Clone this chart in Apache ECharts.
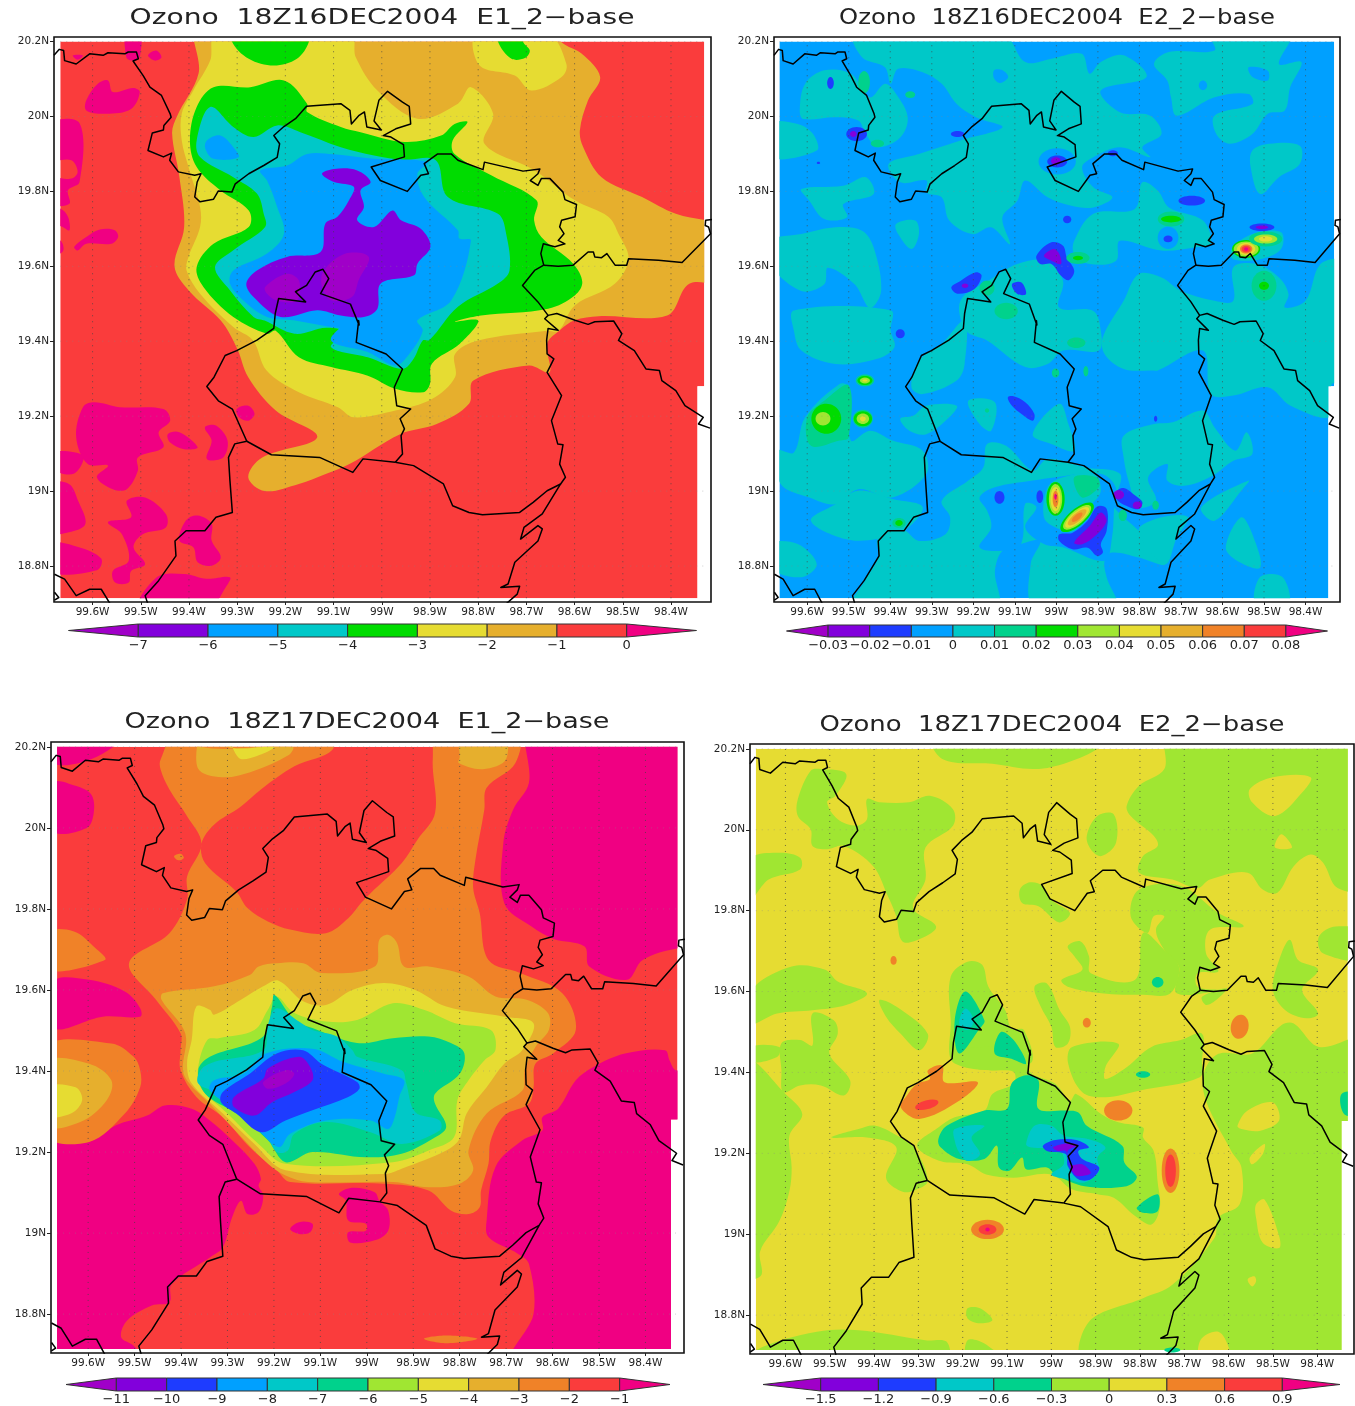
<!DOCTYPE html>
<html><head><meta charset="utf-8">
<style>html,body{margin:0;padding:0;background:#fff}#c{width:1355px;height:1406px}</style>
<script src="https://cdn.jsdelivr.net/npm/echarts@6/dist/echarts.min.js"></script>
</head><body><div id="c"></div>
<script>
// ---- axes ----
const lonTicks=[99.6,99.5,99.4,99.3,99.2,99.1,99,98.9,98.8,98.7,98.6,98.5,98.4];
const latTicks=[20.2,20,19.8,19.6,19.4,19.2,19,18.8];
// data extent of the model field, degrees W / N
const fieldExtent=[99.667,20.2, 98.331,20.2, 98.331,19.28, 98.345,19.28, 98.345,18.714, 99.667,18.714];
// ---- state borders: flat lists of lonW,lat ----
const borderMain=[99.68,20.163,99.669,20.179,99.66,20.176,99.658,20.149,99.634,20.14,99.606,20.167,99.578,20.163,99.568,20.17,99.533,20.167,99.526,20.172,99.509,20.172,99.505,20.154,99.516,20.148,99.495,20.109,99.481,20.078,99.457,20.056,99.439,20.007,99.437,19.998,99.452,19.976,99.453,19.964,99.476,19.956,99.485,19.909,99.453,19.892,99.436,19.902,99.44,19.883,99.422,19.852,99.388,19.843,99.375,19.847,99.383,19.825,99.388,19.785,99.377,19.772,99.349,19.779,99.339,19.801,99.311,19.798,99.304,19.82,99.276,19.847,99.245,19.869,99.217,19.891,99.212,19.927,99.224,19.949,99.203,19.973,99.179,19.994,99.156,20.027,99.085,20.034,99.066,20.016,99.063,19.98,99.047,20.003,99.036,20.012,99.031,19.972,99.001,19.964,99.016,19.988,99.006,20.043,98.988,20.067,98.957,20.038,98.943,20.027,98.94,19.98,98.971,19.967,98.997,19.949,98.981,19.945,98.955,19.925,98.953,19.892,99.022,19.865,99.003,19.829,98.947,19.8,98.919,19.843,98.903,19.847,98.912,19.874,98.884,19.9,98.856,19.9,98.842,19.883,98.79,19.858,98.787,19.878,98.707,19.854,98.672,19.86,98.676,19.847,98.692,19.829,98.676,19.816,98.669,19.834,98.651,19.834,98.624,19.798,98.62,19.778,98.596,19.765,98.599,19.732,98.627,19.723,98.631,19.705,98.622,19.687,98.634,19.669,98.62,19.66,98.641,19.652,98.665,19.66,98.67,19.634,98.664,19.603];
const borderEastSpur=[98.664,19.603,98.634,19.6,98.603,19.603,98.572,19.638,98.561,19.638,98.558,19.625,98.544,19.623,98.533,19.634,98.516,19.603,98.492,19.603,98.488,19.62,98.426,19.616,98.377,19.61,98.318,19.687,98.322,19.705,98.329,19.709,98.328,19.723,98.315,19.725];
const borderEast=[98.664,19.603,98.683,19.589,98.708,19.549,98.676,19.505,98.655,19.469,98.637,19.474,98.599,19.456,98.572,19.445,98.558,19.452,98.519,19.454,98.502,19.42,98.509,19.402,98.476,19.375,98.452,19.326,98.424,19.322,98.419,19.295,98.39,19.268,98.371,19.228,98.333,19.197,98.343,19.179,98.319,19.168];
const borderCentre=[98.655,19.469,98.662,19.46,98.634,19.429,98.655,19.434,98.658,19.403,98.657,19.366,98.643,19.353,98.657,19.317,98.627,19.255,98.648,19.188,98.635,19.126,98.624,19.124,98.631,19.072,98.619,19.037,98.629,19.019,98.657,19.001,98.686,18.97,98.714,18.943,98.791,18.937,98.819,18.943,98.853,18.961,98.872,19.019,98.934,19.068,98.972,19.077];
const borderSouthEast=[98.629,19.019,98.667,18.939,98.705,18.903,98.712,18.872,98.676,18.908,98.667,18.899,98.676,18.867,98.724,18.81,98.738,18.752,98.753,18.743,98.714,18.746,98.719,18.725,98.743,18.698];
const borderSouthCap=[98.972,19.077,99.039,19.086,99.06,19.05,99.129,19.09,99.229,19.097,99.28,19.133];
const borderCapital=[98.972,19.077,98.957,19.099,98.96,19.148,98.953,19.166,98.962,19.193,98.94,19.219,98.969,19.228,98.974,19.277,98.957,19.326,98.991,19.366,99.053,19.397,99.048,19.455,99.047,19.443,99.065,19.499,99.127,19.527,99.11,19.567,99.122,19.592,99.138,19.585,99.156,19.549,99.179,19.532,99.158,19.505,99.214,19.514,99.221,19.474,99.224,19.434,99.259,19.403,99.301,19.375,99.325,19.362,99.348,19.304,99.363,19.279,99.339,19.241,99.31,19.219,99.28,19.133];
const borderWest=[99.28,19.133,99.305,19.126,99.318,19.09,99.315,19.028,99.31,18.943,99.344,18.93,99.367,18.894,99.406,18.894,99.429,18.867,99.427,18.827,99.463,18.761,99.491,18.721,99.485,18.698];
const borderCorner=[99.679,18.778,99.658,18.765,99.634,18.721,99.606,18.738,99.582,18.738,99.563,18.698];
const borderCorner2=[99.679,18.73,99.67,18.716,99.679,18.709];
const borders=[borderMain,borderEastSpur,borderEast,borderCentre,borderSouthEast,borderSouthCap,borderCapital,borderWest,borderCorner,borderCorner2];

// ---- colour scale of every panel: contour levels (colours in code below) ----
const levelsE1Dec16=[-7,-6,-5,-4,-3,-2,-1,0];
const levelsE2Dec16=[-0.03,-0.02,-0.01,0,0.01,0.02,0.03,0.04,0.05,0.06,0.07,0.08];
const levelsE1Dec17=[-11,-10,-9,-8,-7,-6,-5,-4,-3,-2,-1];
const levelsE2Dec17=[-1.5,-1.2,-0.9,-0.6,-0.3,0,0.3,0.6,0.9];

// ---- contour regions: [lower bound of band, flat lonW,lat outline] ----
const regionsE1Dec16=[
[-2,[99.38,20.25,99.38,20.115,99.425,20.0,99.435,19.955,99.42,19.84,99.41,19.705,99.43,19.6,99.40,19.535,99.334,19.455,99.30,19.38,99.277,19.304,99.22,19.215,99.134,19.144,99.248,19.09,99.277,19.037,99.243,19.0,99.172,19.019,99.115,19.046,99.067,19.072,98.962,19.152,98.886,19.179,98.819,19.233,98.81,19.295,98.695,19.335,98.652,19.317,98.657,19.393,98.63,19.43,98.60,19.456,98.55,19.467,98.408,19.469,98.37,19.545,98.35,19.558,98.29,19.558,98.29,19.718,98.327,19.723,98.39,19.74,98.46,19.785,98.544,19.838,98.582,19.918,98.589,19.963,98.572,20.043,98.547,20.105,98.585,20.167,98.627,20.198,98.655,20.25]],
[-3,[99.344,20.22,99.356,20.149,99.391,20.069,99.415,20.007,99.415,19.936,99.401,19.865,99.377,19.758,99.377,19.705,99.401,19.625,99.405,19.589,99.377,19.527,99.308,19.438,99.267,19.402,99.239,19.322,99.172,19.264,99.091,19.224,99.058,19.197,98.972,19.215,98.896,19.246,98.848,19.304,98.848,19.366,98.80,19.402,98.657,19.428,98.633,19.428,98.599,19.496,98.516,19.554,98.488,19.62,98.509,19.687,98.53,19.732,98.599,19.776,98.683,19.856,98.787,19.927,98.769,20.007,98.815,20.078,98.842,20.034,98.926,19.994,99.009,20.069,99.054,20.158,99.065,20.22]],
[-3,[98.804,20.22,98.797,20.136,98.724,20.109,98.69,20.069,98.627,20.105,98.617,20.14,98.655,20.22]],
[-4,[99.349,20.078,99.384,20.025,99.398,19.936,99.384,19.865,99.335,19.803,99.276,19.749,99.276,19.705,99.349,19.66,99.384,19.598,99.37,19.545,99.308,19.465,99.238,19.42,99.22,19.428,99.172,19.357,99.105,19.331,99.029,19.308,98.972,19.273,98.914,19.264,98.9,19.286,98.896,19.34,98.838,19.393,98.80,19.455,98.849,19.452,98.794,19.469,98.655,19.487,98.599,19.523,98.584,19.558,98.603,19.607,98.669,19.678,98.684,19.723,98.679,19.776,98.773,19.843,98.849,19.9,98.853,19.936,98.822,19.985,98.849,19.98,98.877,19.949,98.953,19.932,99.044,19.958,99.085,19.972,99.155,20.012,99.155,20.034,99.203,20.096,99.273,20.078]],
[-4,[99.311,20.25,99.311,20.2,99.276,20.154,99.224,20.136,99.176,20.154,99.151,20.2,99.151,20.25]],
[-4,[98.759,20.25,98.759,20.2,98.731,20.154,98.703,20.156,98.693,20.176,98.707,20.2,98.707,20.25]],
[-5,[99.356,20.025,99.384,19.936,99.377,19.892,99.308,19.838,99.259,19.794,99.245,19.74,99.242,19.705,99.308,19.643,99.346,19.598,99.315,19.536,99.266,19.465,99.243,19.455,99.181,19.42,99.115,19.436,99.077,19.424,99.105,19.384,99.029,19.357,98.957,19.326,98.934,19.353,98.915,19.402,98.901,19.403,98.842,19.492,98.759,19.554,98.735,19.589,98.742,19.687,98.759,19.74,98.863,19.785,98.888,19.883,98.953,19.884,99.016,19.896,99.085,19.918,99.169,19.958,99.217,19.976,99.266,19.945,99.308,19.972]],
[-6,[99.363,19.936,99.335,19.949,99.308,19.918,99.297,19.891,99.349,19.887,99.366,19.914]],
[-6,[99.252,19.856,99.238,19.829,99.217,19.758,99.203,19.687,99.238,19.634,99.308,19.589,99.315,19.554,99.287,19.509,99.238,19.465,99.183,19.456,99.072,19.434,99.067,19.455,99.105,19.402,99.029,19.371,98.972,19.335,98.943,19.366,98.915,19.428,98.926,19.456,98.856,19.509,98.815,19.669,98.839,19.674,98.842,19.696,98.912,19.785,98.926,19.847,98.905,19.878,99.016,19.887,99.099,19.899,99.155,19.9,99.197,19.869]],
[-7,[99.124,19.847,99.099,19.86,99.051,19.856,99.023,19.825,99.044,19.803,99.037,19.758,99.051,19.723,99.016,19.705,98.978,19.749,98.96,19.723,98.919,19.7,98.899,19.652,98.926,19.607,98.933,19.576,99.002,19.554,99.009,19.487,99.037,19.465,99.085,19.469,99.134,19.483,99.21,19.465,99.266,19.518,99.281,19.554,99.259,19.589,99.197,19.625,99.127,19.638,99.117,19.714,99.092,19.732,99.068,19.776,99.058,19.812,99.099,19.825]],
[-8,[99.242,19.545,99.197,19.58,99.172,19.562,99.176,19.509,99.217,19.509,99.238,19.527]],
[-8,[99.12,19.589,99.075,19.634,99.027,19.625,99.048,19.563,99.062,19.518,99.103,19.509,99.124,19.545]],
[0,[99.613,20.043,99.589,20.087,99.568,20.096,99.558,20.065,99.516,20.076,99.502,20.065,99.52,20.02,99.572,20.007,99.613,20.016]],
[0,[99.69,19.98,99.627,19.982,99.627,19.825,99.651,19.803,99.648,19.767,99.69,19.767,99.69,19.834,99.644,19.834,99.631,19.852,99.644,19.883,99.69,19.887]],
[0,[99.69,19.754,99.667,19.754,99.651,19.732,99.648,19.696,99.662,19.705,99.69,19.72]],
[0,[99.69,19.669,99.667,19.669,99.66,19.647,99.667,19.634,99.69,19.634]],
[0,[99.638,19.652,99.613,19.678,99.585,19.698,99.554,19.696,99.547,19.678,99.561,19.66,99.613,19.66,99.631,19.642]],
[0,[99.641,20.163,99.62,20.163,99.631,20.151]],
[0,[99.53,20.25,99.502,20.25,99.502,20.158,99.516,20.149,99.53,20.158]],
[0,[99.485,20.163,99.468,20.176,99.457,20.158,99.471,20.149]],
[0,[99.62,19.224,99.596,19.237,99.544,19.224,99.453,19.219,99.439,19.188,99.463,19.157,99.453,19.117,99.506,19.09,99.506,19.054,99.529,19.005,99.558,19.005,99.591,19.037,99.568,19.068,99.61,19.072,99.634,19.144]],
[0,[99.69,19.103,99.62,19.095,99.639,19.046,99.69,19.063]],
[0,[99.444,19.152,99.42,19.157,99.382,19.117,99.41,19.112,99.439,19.13]],
[0,[99.367,19.17,99.344,19.175,99.32,19.135,99.329,19.09,99.363,19.086,99.353,19.135]],
[0,[99.301,19.219,99.277,19.228,99.264,19.206,99.277,19.188,99.296,19.197]],
[0,[99.69,19.019,99.649,19.019,99.63,18.974,99.615,18.912,99.649,18.89,99.69,18.89]],
[0,[99.529,18.974,99.491,18.983,99.448,18.939,99.448,18.903,99.496,18.885,99.515,18.85,99.491,18.805,99.52,18.787,99.525,18.756,99.553,18.756,99.558,18.787,99.525,18.814,99.539,18.885,99.568,18.917,99.52,18.93]],
[0,[99.406,18.922,99.382,18.935,99.353,18.913,99.353,18.868,99.334,18.823,99.353,18.801,99.382,18.81,99.391,18.85,99.42,18.868]],
[0,[99.69,18.86,99.63,18.851,99.582,18.82,99.591,18.789,99.69,18.785]],
[0,[99.506,18.68,99.467,18.77,99.41,18.779,99.363,18.766,99.315,18.77,99.324,18.743,99.363,18.68]]
];
const regionsE2Dec16=[
[0,[99.486,20.22,99.13,20.22,99.075,20.145,99.012,20.154,98.939,20.167,98.92,20.114,98.893,20.145,98.838,20.163,98.783,20.105,98.893,20.069,98.847,20.011,98.774,20.002,98.747,19.953,98.793,19.918,98.774,19.891,98.847,19.918,98.911,19.891,98.938,19.864,98.911,19.811,98.865,19.784,98.911,19.757,98.966,19.762,99.021,19.784,99.075,19.829,99.094,19.775,99.13,19.731,99.112,19.659,99.157,19.704,99.203,19.686,99.258,19.722,99.276,19.784,99.313,19.797,99.313,19.829,99.376,19.824,99.404,19.873,99.331,19.9,99.231,19.936,99.13,19.971,99.194,19.998,99.24,20.033,99.276,20.087,99.322,20.118,99.381,20.127,99.399,20.087,99.413,20.131,99.468,20.158]],
[-0.01,[99.15,20.123,99.13,20.123,99.116,20.105,99.135,20.089,99.15,20.101]],
[0,[99.618,20.016,99.605,20.087,99.559,20.123,99.495,20.114,99.449,20.051,99.413,20.087,99.386,20.06,99.358,19.998,99.376,19.944,99.431,19.918,99.459,19.953,99.477,19.989,99.532,19.998,99.609,19.993]],
[0,[99.69,19.98,99.623,19.98,99.586,19.953,99.577,19.909,99.69,19.891]],
[0,[99.614,19.806,99.513,19.815,99.459,19.838,99.44,19.793,99.513,19.766,99.504,19.731,99.559,19.726,99.595,19.775]],
[0,[99.69,19.668,99.614,19.686,99.532,19.704,99.468,19.695,99.44,19.65,99.422,19.534,99.449,19.489,99.486,19.552,99.55,19.596,99.559,19.552,99.614,19.534,99.69,19.606]],
[0,[99.386,19.713,99.34,19.722,99.331,19.686,99.349,19.646,99.381,19.686]],
[0,[98.765,20.14,98.729,20.172,98.619,20.176,98.628,20.22,98.437,20.22,98.464,20.14,98.41,20.145,98.437,20.078,98.45,20.016,98.491,20.007,98.528,19.953,98.583,19.927,98.615,19.953,98.619,20.002,98.528,20.033,98.537,20.06,98.619,20.051,98.71,20.002,98.724,20.051,98.733,20.096]],
[-0.01,[98.537,20.131,98.491,20.122,98.491,20.096,98.528,20.105]],
[0,[98.528,19.909,98.487,19.927,98.414,19.922,98.414,19.873,98.464,19.838,98.509,19.793,98.532,19.864]],
[0,[98.957,19.668,98.911,19.74,98.811,19.753,98.793,19.824,98.756,19.802,98.729,19.757,98.647,19.722,98.628,19.66,98.665,19.651,98.747,19.642,98.847,19.668,98.856,19.615,98.92,19.606,98.957,19.633]],
[0,[98.578,19.646,98.528,19.686,98.459,19.691,98.459,19.646,98.509,19.619,98.574,19.619]],
[0,[98.838,19.508,98.802,19.579,98.747,19.57,98.701,19.535,98.619,19.508,98.574,19.508,98.574,19.597,98.519,19.606,98.464,19.57,98.441,19.526,98.45,19.49,98.4,19.508,98.364,19.606,98.31,19.61,98.31,19.286,98.337,19.286,98.341,19.198,98.436,19.228,98.491,19.277,98.574,19.255,98.628,19.259,98.647,19.375,98.756,19.322,98.765,19.322,98.838,19.326,98.884,19.366,98.888,19.411]],
[0,[98.838,19.148,98.765,19.179,98.72,19.184,98.647,19.215,98.619,19.17,98.569,19.108,98.542,19.157,98.528,19.099,98.574,19.081,98.624,19.041,98.692,19.014,98.733,19.028,98.733,19.072,98.779,19.037,98.76,18.974,98.802,18.957,98.824,19.019,98.838,19.09]],
[0,[99.49,18.69,99.459,18.765,99.429,18.823,99.431,18.872,99.404,18.896,99.367,18.896,99.331,18.867,99.267,18.885,99.256,18.93,99.276,18.974,99.212,19.028,99.176,19.063,99.167,19.126,99.121,19.121,99.057,19.055,99.021,19.086,98.93,19.063,98.847,19.046,98.857,18.983,98.861,18.957,98.802,18.894,98.738,18.805,98.802,18.823,98.866,18.836,98.884,18.814,98.879,18.77,98.857,18.69,99.053,18.69,99.062,18.805,99.039,18.867,99.085,18.859,99.13,18.841,99.148,18.787,99.144,18.69]],
[-0.01,[99.185,18.983,99.148,19.01,99.057,19.028,99.002,19.037,98.893,19.046,98.857,19.01,98.861,18.957,98.866,18.876,98.884,18.814,98.984,18.85,99.03,18.859,99.075,18.903,99.048,18.957,99.075,18.966,99.085,18.859,99.13,18.841,99.185,18.85,99.157,18.903,99.167,18.948]],
[0,[99.021,19.01,98.984,19.037,98.911,19.046,98.893,19.0,98.92,18.957,98.957,18.894,99.002,18.903,99.03,18.93]],
[0.01,[98.957,19.037,98.902,19.037,98.898,19.01,98.938,18.983]],
[0,[99.673,19.108,99.632,19.103,99.605,19.197,99.522,19.286,99.5,19.277,99.495,19.135,99.449,19.161,99.395,19.135,99.322,19.108,99.313,19.046,99.395,18.983,99.477,19.005,99.532,18.965,99.595,18.983,99.664,19.019]],
[0,[99.591,18.921,99.532,18.965,99.477,19.001,99.395,18.979,99.322,18.957,99.367,18.894,99.431,18.872,99.509,18.872]],
[0,[99.69,18.859,99.623,18.859,99.577,18.805,99.614,18.77,99.69,18.796]],
[0,[99.632,19.482,99.632,19.428,99.614,19.375,99.532,19.339,99.431,19.353,99.39,19.384,99.399,19.428,99.399,19.482]],
[0,[99.349,19.277,99.331,19.348,99.276,19.393,99.221,19.455,99.221,19.339,99.24,19.295,99.322,19.259]],
[0,[99.231,19.508,99.157,19.566,99.094,19.606,99.021,19.615,98.984,19.561,98.993,19.49,98.911,19.481,98.893,19.428,98.898,19.375,98.984,19.375,99.021,19.339,99.075,19.331,99.167,19.402,99.217,19.428]],
[0,[99.057,19.152,98.993,19.233,98.971,19.179,98.957,19.108,99.012,19.126]],
[0,[99.212,19.241,99.148,19.237,99.157,19.161,99.185,19.179]],
[0,[99.376,19.193,99.345,19.201,99.313,19.228,99.24,19.228,99.258,19.197,99.313,19.152,99.354,19.161]],
[0,[98.592,18.85,98.555,18.93,98.528,18.885,98.509,18.796,98.565,18.814]],
[0,[98.651,18.957,98.537,19.028,98.555,19.001,98.619,18.921]],
[0,[98.519,18.69,98.51,18.77,98.455,18.77,98.441,18.69]],
[0,[98.802,18.894,98.747,18.93,98.683,18.93,98.71,18.876,98.738,18.805]],
[0.01,[99.591,19.121,99.6,19.197,99.559,19.241,99.5,19.282,99.5,19.144,99.522,19.135]],
[-0.02,[99.048,19.628,99.012,19.664,98.984,19.655,98.975,19.624,98.957,19.588,98.97,19.563,98.989,19.575,99.012,19.606,99.039,19.606]],
[-0.03,[99.03,19.628,99.007,19.646,98.993,19.633,98.989,19.606,99.012,19.615]],
[-0.02,[99.253,19.544,99.231,19.561,99.194,19.584,99.18,19.575,99.198,19.539,99.239,19.527]],
[-0.02,[99.107,19.552,99.084,19.557,99.073,19.526,99.094,19.526]],
[-0.02,[99.117,19.25,99.103,19.253,99.075,19.237,99.053,19.206,99.057,19.188,99.084,19.206,99.107,19.228]],
[-0.02,[98.857,18.997,98.838,19.008,98.815,18.992,98.793,18.97,98.802,18.952,98.824,18.957,98.852,18.974]],
[-0.02,[98.993,18.885,98.961,18.889,98.925,18.921,98.902,18.959,98.879,18.953,98.879,18.894,98.893,18.858,98.888,18.836,98.902,18.827,98.925,18.849,98.961,18.845,98.993,18.867]],
[-0.03,[98.957,18.863,98.92,18.907,98.893,18.943,98.879,18.921,98.902,18.885,98.938,18.858]]
];
// round spots: [band, lonW, lat, radius W, radius N, tilt degrees]
const spotsE2Dec16=[
[-0.01,98.998,19.88,.045,.035],[-0.02,98.998,19.88,.024,.016],[-0.03,99.001,19.881,.012,.01],
[-0.02,99.481,19.953,.025,.019],[-0.03,99.489,19.953,.008,.008],[-0.02,99.544,20.089,.008,.016],
[-0.02,98.864,19.902,.012,.008],[-0.02,98.674,19.775,.032,.013],[-0.02,98.505,19.704,.03,.01],[-0.03,98.505,19.704,.015,.005],
[-0.02,98.974,19.725,.01,.01],[-0.01,98.731,19.676,.025,.03],[-0.02,98.731,19.673,.011,.009],[-0.01,98.647,20.083,.01,.013],
[-0.03,99.22,19.548,.008,.006],[-0.02,99.238,19.953,.016,.008],[-0.02,99.573,19.876,.004,.003],[-0.02,98.761,19.193,.004,.008],
[-0.02,99.376,19.42,.011,.012],[-0.02,99.137,18.983,.012,.017],[-0.02,99.04,18.985,.008,.017],[-0.03,98.85,18.99,.013,.012],[-0.03,98.805,18.962,.011,.01],
[0.02,99.002,18.979,.022,.045],[0.03,99.002,18.979,.016,.04],[0.04,99.002,18.979,.012,.032],[0.06,99.002,18.979,.007,.022],[0.08,99.002,18.985,.003,.008],
[0.02,98.95,18.93,.05,.022,40],[0.03,98.95,18.93,.042,.018,40],[0.04,98.95,18.93,.036,.014,40],[0.05,98.95,18.93,.028,.011,40],[0.06,98.95,18.93,.016,.007,40],
[0.02,98.543,19.646,.034,.024],[0.03,98.543,19.646,.03,.02],[0.04,98.543,19.646,.022,.016],[0.06,98.543,19.646,.015,.012],[0.07,98.543,19.646,.011,.009],[0.08,98.543,19.646,.005,.005],
[0.01,98.496,19.673,.04,.02],[0.03,98.496,19.673,.028,.012],[0.04,98.496,19.673,.016,.007],
[0.01,98.724,19.726,.032,.02],[0.02,98.724,19.726,.024,.009],[0.01,98.5,19.548,.03,.04],[0.02,98.5,19.548,.012,.011],
[0.01,98.948,19.622,.028,.016],[0.02,98.948,19.622,.012,.006],[0.01,99.352,20.058,.012,.009],[0.01,99.463,20.091,.014,.03],
[0.01,99.431,19.928,.016,.01],[0.01,99.121,19.481,.028,.022],[0.01,99.167,19.542,.018,.02],
[0.02,99.554,19.193,.036,.04,30],[0.03,99.562,19.193,.018,.018],
[0.01,99.466,19.193,.024,.024],[0.02,99.466,19.193,.022,.02],[0.03,99.466,19.193,.015,.014],[0.04,99.466,19.193,.007,.007],
[0.01,99.461,19.295,.022,.016],[0.02,99.461,19.295,.018,.012],[0.03,99.461,19.295,.012,.008],[0.04,99.461,19.295,.006,.003],
[0.01,99.379,18.915,.016,.013],[0.02,99.379,18.915,.009,.008],[0.01,98.952,19.396,.022,.014],[0.01,99.002,19.315,.009,.012],
[0.01,98.929,19.32,.006,.014],[0.01,98.84,18.935,.01,.015],[0.01,98.761,18.962,.008,.012],[0.01,99.167,19.215,.005,.006]
];
const regionsE1Dec17=[
[-1,[98.646,20.25,98.651,20.111,98.685,20.045,98.706,19.963,98.704,19.814,98.646,19.757,98.598,19.726,98.531,19.707,98.521,19.658,98.44,19.625,98.406,19.674,98.329,19.703,98.27,19.703,98.27,20.25]],
[-1,[98.55,19.377,98.512,19.41,98.444,19.443,98.358,19.451,98.348,19.426,98.334,19.402,98.27,19.402,98.27,18.685,98.685,18.685,98.641,18.8,98.651,18.924,98.675,18.949,98.738,18.99,98.742,19.031,98.723,19.163,98.665,19.229,98.622,19.253,98.622,19.286,98.588,19.307]],
[-1,[99.685,19.22,99.598,19.225,99.54,19.266,99.473,19.29,99.435,19.315,99.377,19.307,99.338,19.278,99.29,19.229,99.242,19.171,99.228,19.134,99.233,19.117,99.223,19.093,99.233,19.052,99.257,19.047,99.271,19.08,99.29,19.039,99.31,18.965,99.338,18.94,99.42,18.874,99.425,18.829,99.463,18.821,99.516,18.784,99.529,18.743,99.502,18.722,99.483,18.685,99.685,18.685]],
[-1,[99.06,19.097,99.031,19.112,98.983,19.101,98.973,19.08,98.954,19.056,98.954,19.006,98.983,18.982,99.036,18.977,99.04,19.002,99.002,19.006,99.002,19.023,99.04,19.031,99.045,19.08]],
[-1,[99.165,19.01,99.146,19.027,99.117,19.023,99.122,19.002,99.146,18.998]],
[-1,[99.675,20.111,99.627,20.104,99.593,20.082,99.588,20.037,99.603,20.0,99.675,19.992]],
[-1,[99.675,20.25,99.507,20.25,99.579,20.177,99.675,20.16]],
[-1,[99.675,19.621,99.598,19.625,99.521,19.596,99.488,19.555,99.488,19.534,99.569,19.534,99.675,19.506]],
[-3,[99.356,19.961,99.387,20.029,99.425,20.095,99.444,20.144,99.444,20.169,99.401,20.25,99.079,20.25,99.074,20.193,99.156,20.152,99.228,20.095,99.271,20.053,99.329,20.008,99.356,19.961,99.348,19.913,99.281,19.843,99.257,19.802,99.213,19.769,99.165,19.749,99.088,19.74,99.04,19.777,99.012,19.815,98.992,19.839,98.925,19.913,98.891,19.971,98.853,20.037,98.858,20.169,98.843,20.25,98.675,20.25,98.68,20.16,98.742,20.099,98.747,20.045,98.766,19.922,98.771,19.852,98.757,19.79,98.738,19.674,98.67,19.642,98.579,19.592,98.55,19.501,98.598,19.444,98.637,19.418,98.641,19.36,98.651,19.319,98.704,19.29,98.733,19.229,98.738,19.171,98.754,19.105,98.757,19.064,98.781,19.047,98.819,19.056,98.867,19.105,98.963,19.122,99.165,19.126,99.194,19.155,99.252,19.212,99.31,19.286,99.367,19.336,99.401,19.402,99.401,19.451,99.401,19.493,99.454,19.576,99.512,19.666,99.425,19.74,99.387,19.823,99.387,19.88]],
[-3,[99.69,19.74,99.632,19.745,99.584,19.703,99.564,19.674,99.69,19.65]],
[-3,[99.69,19.459,99.55,19.468,99.502,19.435,99.488,19.402,99.488,19.36,99.521,19.295,99.598,19.225,99.69,19.241]],
[-3,[98.877,18.739,98.829,18.747,98.762,18.739,98.829,18.728]],
[-3,[99.415,19.93,99.401,19.936,99.394,19.926,99.406,19.92]],
[-4,[99.69,19.422,99.598,19.418,99.55,19.377,99.56,19.328,99.617,19.274,99.69,19.266]],
[-5,[99.69,19.36,99.627,19.36,99.613,19.328,99.637,19.295,99.69,19.29]],
[-4,[99.358,20.25,99.358,20.2,99.16,20.2,99.168,20.18,99.245,20.14,99.312,20.125,99.364,20.148]],
[-5,[99.305,20.25,99.3,20.2,99.2,20.2,99.238,20.177,99.276,20.173]],
[-4,[98.8,20.25,98.8,20.175,98.802,20.16,98.75,20.145,98.7,20.17,98.71,20.25]],
[-4,[99.439,19.592,99.329,19.609,99.252,19.637,99.233,19.658,99.194,19.666,99.137,19.666,99.098,19.642,98.983,19.658,98.973,19.724,98.954,19.736,98.935,19.716,98.92,19.658,98.867,19.658,98.781,19.633,98.723,19.584,98.656,19.576,98.61,19.543,98.608,19.501,98.637,19.459,98.66,19.402,98.665,19.352,98.742,19.295,98.781,19.204,98.771,19.155,98.8,19.122,98.867,19.113,98.944,19.126,99.127,19.126,99.175,19.142,99.213,19.171,99.27,19.237,99.338,19.319,99.382,19.369,99.396,19.402,99.391,19.493,99.442,19.576]],
[-5,[99.377,19.477,99.367,19.559,99.338,19.551,99.329,19.539,99.271,19.576,99.223,19.609,99.19,19.623,99.137,19.572,99.088,19.563,99.031,19.6,98.963,19.617,98.896,19.6,98.829,19.559,98.704,19.534,98.641,19.518,98.665,19.452,98.704,19.418,98.742,19.36,98.785,19.295,98.8,19.233,98.829,19.204,98.925,19.159,98.963,19.146,99.175,19.155,99.242,19.22,99.31,19.295,99.377,19.369,99.387,19.418]],
[-6,[99.319,19.481,99.242,19.501,99.213,19.551,99.194,19.584,99.156,19.543,99.088,19.522,99.021,19.526,98.944,19.567,98.877,19.551,98.81,19.518,98.733,19.501,98.723,19.452,98.747,19.426,98.781,19.377,98.805,19.328,98.812,19.237,98.867,19.204,98.944,19.175,99.175,19.171,99.233,19.22,99.3,19.295,99.358,19.36,99.363,19.41,99.343,19.477]],
[-7,[99.199,19.588,99.156,19.526,99.117,19.506,99.021,19.469,98.944,19.481,98.867,19.485,98.819,19.469,98.79,19.444,98.8,19.393,98.853,19.344,98.853,19.319,98.829,19.262,98.858,19.233,98.925,19.196,99.002,19.187,99.117,19.2,99.175,19.175,99.213,19.229,99.281,19.295,99.348,19.344,99.363,19.402,99.338,19.435,99.223,19.485,99.204,19.559]],
[-8,[99.213,19.514,99.194,19.555,99.146,19.522,99.117,19.501,99.064,19.485,99.031,19.451,99.021,19.435,98.925,19.402,98.915,19.369,98.896,19.299,98.843,19.278,98.843,19.253,98.925,19.22,98.992,19.249,99.088,19.274,99.156,19.245,99.17,19.204,99.194,19.2,99.223,19.253,99.286,19.311,99.319,19.344,99.363,19.369,99.358,19.402,99.329,19.422,99.223,19.451]],
[-9,[99.218,19.443,99.117,19.455,99.05,19.422,98.963,19.393,98.92,19.377,98.93,19.336,98.94,19.286,98.954,19.257,98.992,19.278,99.088,19.278,99.165,19.245,99.189,19.212,99.233,19.253,99.281,19.303,99.338,19.352,99.329,19.377,99.266,19.393]],
[-10,[99.194,19.443,99.137,19.451,99.098,19.418,99.021,19.373,99.016,19.356,99.04,19.336,99.117,19.303,99.175,19.278,99.228,19.249,99.281,19.295,99.314,19.323,99.31,19.348,99.252,19.393]],
[-11,[99.213,19.406,99.146,19.435,99.122,19.41,99.117,19.377,99.156,19.348,99.204,19.323,99.242,19.29,99.286,19.311,99.286,19.336,99.223,19.381]],
[-12,[99.223,19.373,99.175,19.402,99.156,19.393,99.175,19.369,99.213,19.356]]
];
const regionsE2Dec17=[
[-0.3,[99.27,20.24,99.246,20.175,99.133,20.163,99.038,20.15,98.962,20.167,98.887,20.208,98.887,20.24]],
[-0.3,[99.572,20.034,99.572,20.076,99.543,20.146,99.52,20.15,99.463,20.138,99.487,20.084,99.506,20.068,99.482,20.026,99.44,20.01,99.416,20.026,99.416,20.076,99.388,20.068,99.321,20.068,99.274,20.084,99.222,20.051,99.222,20.01,99.284,19.956,99.284,19.877,99.312,19.807,99.26,19.761,99.293,19.732,99.336,19.724,99.35,19.786,99.369,19.836,99.402,19.91,99.468,19.96,99.506,19.952,99.539,19.96,99.543,20.001]],
[-0.3,[99.68,19.927,99.614,19.943,99.567,19.931,99.567,19.902,99.638,19.877,99.68,19.827]],
[-0.3,[98.736,20.24,98.283,20.24,98.283,19.856,98.354,19.856,98.387,19.919,98.415,19.939,98.453,19.91,98.49,19.844,98.523,19.852,98.557,19.894,98.642,19.877,98.67,19.856,98.727,19.877,98.802,19.894,98.793,19.935,98.76,19.96,98.769,19.985,98.821,20.034,98.83,20.059,98.802,20.109,98.745,20.15]],
[0,[98.552,20.101,98.5,20.13,98.415,20.13,98.434,20.092,98.495,20.034,98.547,20.068]],
[0,[98.495,19.956,98.481,19.989,98.457,19.956]],
[-0.3,[98.92,19.985,98.896,20.034,98.859,20.038,98.854,19.968,98.887,19.935,98.911,19.952]],
[-0.3,[99.071,19.852,99.048,19.87,99.019,19.861,99.0,19.827,98.958,19.794,98.982,19.771,99.029,19.811,99.066,19.819]],
[-0.3,[98.821,19.786,98.802,19.852,98.708,19.861,98.623,19.794,98.566,19.761,98.642,19.753,98.651,19.695,98.623,19.65,98.67,19.645,98.67,19.612,98.623,19.604,98.717,19.596,98.712,19.662,98.745,19.703,98.764,19.753,98.745,19.786,98.769,19.786,98.783,19.745]],
[-0.3,[98.963,19.712,98.934,19.724,98.915,19.687,98.911,19.645,98.811,19.629,98.793,19.745,98.745,19.703,98.712,19.662,98.731,19.596,98.793,19.592,98.887,19.596,98.963,19.612,98.977,19.629,98.93,19.654,98.948,19.687]],
[-0.3,[99.68,19.6,99.586,19.662,99.51,19.654,99.482,19.625,99.416,19.596,99.463,19.567,99.539,19.554,99.619,19.546,99.68,19.521]],
[-0.3,[99.227,19.637,99.189,19.674,99.156,19.666,99.142,19.612,99.104,19.554,99.09,19.509,99.062,19.505,99.048,19.422,99.218,19.422,99.227,19.529]],
[-0.3,[99.038,19.612,99.01,19.62,98.981,19.554,98.958,19.513,98.963,19.471,98.991,19.463,99.0,19.513,99.024,19.563]],
[-0.3,[99.388,19.579,99.35,19.563,99.279,19.496,99.298,19.455,99.34,19.496,99.373,19.538]],
[-0.3,[98.5,19.604,98.486,19.678,98.462,19.728,98.443,19.678,98.398,19.654,98.434,19.604,98.398,19.546,98.424,19.534,98.472,19.554]],
[-0.3,[98.396,19.736,98.358,19.761,98.283,19.745,98.283,19.678,98.387,19.695]],
[-0.3,[98.66,19.587,98.604,19.608,98.628,19.579,98.651,19.567]],
[-0.3,[98.547,19.447,98.481,19.517,98.453,19.521,98.396,19.463,98.283,19.48,98.283,18.686,98.925,18.685,98.915,18.784,98.793,18.842,98.727,18.875,98.632,18.991,98.623,19.041,98.575,19.074,98.571,19.165,98.594,19.206,98.651,19.33,98.656,19.397,98.623,19.446]],
[0,[98.58,19.268,98.557,19.306,98.5,19.326,98.486,19.281,98.528,19.256,98.571,19.26]],
[0,[98.552,19.19,98.519,19.223,98.523,19.198,98.547,19.173]],
[0,[98.538,19.074,98.519,19.086,98.486,18.996,98.486,18.966,98.523,18.979,98.538,19.041]],
[0,[98.663,18.685,98.663,18.739,98.623,18.759,98.599,18.718,98.599,18.685]],
[0,[98.557,18.888,98.542,18.896,98.538,18.884,98.547,18.871]],
[-0.3,[99.68,19.422,99.6,19.347,99.562,19.297,99.591,19.244,99.586,19.165,99.591,19.107,99.614,19.032,99.657,18.958,99.654,18.9,99.68,18.892]],
[-0.3,[99.68,19.426,99.619,19.438,99.614,19.463,99.68,19.463]],
[-0.3,[99.609,19.472,99.567,19.48,99.539,19.467,99.539,19.546,99.491,19.529,99.482,19.496,99.501,19.447,99.454,19.38,99.468,19.343,99.52,19.368,99.567,19.368,99.605,19.351,99.609,19.405]],
[-0.3,[99.496,19.239,99.435,19.26,99.397,19.268,99.34,19.239,99.312,19.219,99.279,19.132,99.312,19.107,99.34,19.107,99.373,19.14,99.35,19.215,99.416,19.239]],
[-0.3,[99.666,18.685,99.666,18.714,99.529,18.759,99.435,18.763,99.284,18.738,99.236,18.734,99.236,18.685]],
[-0.3,[99.189,18.817,99.161,18.817,99.133,18.788,99.161,18.78,99.189,18.792]],
[-0.3,[99.189,18.738,99.151,18.73,99.109,18.685,99.189,18.685]],
[-0.3,[99.303,19.219,99.255,19.264,99.218,19.289,99.151,19.306,99.133,19.347,99.085,19.372,99.085,19.401,99.133,19.405,99.17,19.409,99.218,19.426,99.222,19.455,99.057,19.455,99.048,19.401,98.991,19.372,98.958,19.33,98.944,19.347,98.887,19.297,98.849,19.277,98.793,19.264,98.793,19.239,98.769,19.206,98.76,19.128,98.755,19.066,98.774,19.024,98.811,19.045,98.859,19.09,98.896,19.099,98.953,19.111,99.0,19.148,99.085,19.14,99.147,19.148,99.189,19.173,99.251,19.181]],
[-0.3,[98.962,19.422,98.953,19.463,98.849,19.471,98.878,19.413,98.878,19.384,98.83,19.413,98.774,19.463,98.708,19.48,98.66,19.496,98.66,19.43,98.665,19.388,98.802,19.355,98.878,19.339,98.93,19.351]],
[-0.6,[99.255,19.235,99.236,19.268,99.151,19.306,99.1,19.31,99.09,19.372,99.057,19.393,99.029,19.38,99.029,19.31,98.972,19.306,98.939,19.301,98.92,19.268,98.84,19.219,98.835,19.177,98.807,19.142,98.83,19.119,98.925,19.119,98.991,19.148,99.01,19.165,99.057,19.161,99.066,19.19,99.095,19.157,99.118,19.165,99.123,19.219,99.151,19.186,99.208,19.186,99.25,19.215]],
[-0.9,[99.218,19.26,99.151,19.268,99.18,19.239,99.161,19.198,99.189,19.181,99.208,19.202,99.218,19.231]],
[-0.9,[99.038,19.268,99.0,19.268,98.972,19.244,98.915,19.235,98.878,19.215,98.896,19.19,98.892,19.157,98.925,19.128,98.963,19.136,99.0,19.148,98.972,19.173,98.981,19.206,99.048,19.215,99.057,19.223]],
[-1.2,[99.019,19.219,98.991,19.233,98.944,19.233,98.915,19.215,98.939,19.206,98.93,19.186,98.892,19.165,98.911,19.136,98.939,19.136,98.963,19.169,98.967,19.198,99.01,19.206]],
[-1.5,[98.996,19.215,98.963,19.225,98.939,19.22,98.963,19.206,98.958,19.173,98.93,19.173,98.911,19.152,98.93,19.144,98.948,19.148,98.964,19.186,98.967,19.206,98.986,19.206]],
[-0.6,[99.218,19.529,99.194,19.6,99.151,19.529,99.161,19.509,99.208,19.447]],
[-0.9,[99.208,19.521,99.194,19.558,99.175,19.529,99.189,19.505]],
[-0.6,[99.128,19.447,99.114,19.5,99.085,19.48,99.057,19.422,99.09,19.434]],
[0.3,[99.34,19.314,99.326,19.343,99.303,19.372,99.274,19.384,99.279,19.405,99.246,19.417,99.241,19.376,99.166,19.376,99.208,19.33,99.298,19.285]],
[-0.6,[98.807,19.066,98.76,19.099,98.76,19.057,98.793,19.053]],
[-0.6,[98.345,19.347,98.3,19.347,98.3,19.297,98.339,19.297]]
];
const spotsE2Dec17=[
[0.6,99.281,19.32,.027,.011,15],[0.3,98.849,19.306,.032,.025],[0.3,98.731,19.157,.02,.055],[0.6,98.731,19.157,.012,.04],
[0.3,99.144,19.012,.037,.024],[0.6,99.144,19.012,.02,.013],[0.9,99.144,19.012,.005,.005],[0.3,98.575,19.513,.02,.03,-10],
[0.3,98.92,19.523,.009,.012],[0.3,99.356,19.677,.007,.011],[-0.6,98.76,19.623,.013,.013],[-0.6,98.793,19.395,.016,.008],[-0.6,98.727,18.714,.018,.006]
];

// ---- titles ----
const titleE1Dec16='Ozono  18Z16DEC2004  E1_2\u2212base';
const titleE2Dec16='Ozono  18Z16DEC2004  E2_2\u2212base';
const titleE1Dec17='Ozono  18Z17DEC2004  E1_2\u2212base';
const titleE2Dec17='Ozono  18Z17DEC2004  E2_2\u2212base';

// ---- styles / layout ----
const rainbow=['#a000c8','#8200dc','#1e3cff','#00a0ff','#00c8c8','#00d28c','#00dc00','#a0e632','#e6dc32','#e6af2d','#f08228','#fa3c3c','#f00082'];
const hex=s=>s.split(' ').map(k=>rainbow[+k]);
const panels=[
{title:titleE1Dec16,regions:regionsE1Dec16,spots:[],base:-1,levels:levelsE1Dec16,colors:hex('0 1 3 4 6 8 9 11 12'),
 frame:[54,37,657,565],bar:[68.5,624,628,13],t:[382,19,505]},
{title:titleE2Dec16,regions:regionsE2Dec16,spots:spotsE2Dec16,base:-0.01,levels:levelsE2Dec16,colors:hex('0 1 2 3 4 5 6 7 8 9 10 11 12'),
 frame:[774,37,566,565],bar:[786.5,625,541,12],t:[1057,19,436]},
{title:titleE1Dec17,regions:regionsE1Dec17,spots:[],base:-2,levels:levelsE1Dec17,colors:hex('0 1 2 3 4 5 7 8 9 10 11 12'),
 frame:[51,742,633,611],bar:[66,1378,604,14],t:[367,723,485]},
{title:titleE2Dec17,regions:regionsE2Dec17,spots:spotsE2Dec17,base:0,levels:levelsE2Dec17,colors:hex('0 1 2 4 5 7 8 10 11 12'),
 frame:[750,744,604,610],bar:[763,1378,577,14],t:[1052,726,465]}
];
const pairs=f=>{const o=[];for(let i=0;i<f.length;i+=2)o.push([f[i],f[i+1]]);return o;};
const minus=v=>String(v).replace('-','\u2212');
const axisFont={fontFamily:'DejaVu Sans',fontSize:10.5,color:'#222'};
const grid=[],xAxis=[],yAxis=[],series=[],graphic=[];
const ctx=document.createElement('canvas').getContext('2d');
const titleFont='21px "DejaVu Sans"';ctx.font=titleFont;

panels.forEach((p,n)=>{
  const colorOf=v=>p.colors[p.levels.filter(l=>l<=v+1e-9).length];
  const gi=grid.length;
  grid.push({left:p.frame[0],top:p.frame[1],width:p.frame[2],height:p.frame[3],show:true,borderColor:'#111',borderWidth:1.6,backgroundColor:'#fff'});
  xAxis.push({gridIndex:gi,type:'value',inverse:true,min:98.317,max:99.68,
    axisLine:{show:false},splitLine:{show:false},
    axisTick:{show:true,length:3,inside:false,customValues:lonTicks,lineStyle:{color:'#222'}},
    axisLabel:{...axisFont,margin:5,customValues:lonTicks,formatter:v=>v+'W'}});
  yAxis.push({gridIndex:gi,type:'value',min:18.704,max:20.212,
    axisLine:{show:false},splitLine:{show:false},
    axisTick:{show:true,length:4,customValues:latTicks,lineStyle:{color:'#222'}},
    axisLabel:{...axisFont,margin:5,customValues:latTicks,formatter:v=>v+'N'}});
  const clipPts=c=>pairs(fieldExtent).map(q=>c(q));
  const regs=[[p.base,fieldExtent]].concat(p.regions);
  series.push({type:'custom',xAxisIndex:gi,yAxisIndex:gi,z:1,silent:true,animation:false,clip:true,
    encode:{x:0,y:1},data:regs.map(r=>[r[1][0],r[1][1],r[0]]),
    renderItem:(params,api)=>{
      const r=regs[params.dataIndex],c=q=>api.coord(q),isBase=params.dataIndex===0;
      return {type:'polygon',shape:{points:pairs(r[1]).map(c),smooth:isBase?0:0.35},
        clipPath:{type:'polygon',shape:{points:clipPts(c)}},
        style:{fill:colorOf(r[0])}};
    }});
  if(p.spots.length) series.push({type:'custom',xAxisIndex:gi,yAxisIndex:gi,z:2,silent:true,animation:false,clip:true,
    encode:{x:0,y:1},data:p.spots.map(s=>[s[1],s[2],s[0]]),
    renderItem:(params,api)=>{
      const s=p.spots[params.dataIndex],a=api.coord([s[1],s[2]]),b=api.coord([s[1]+s[3],s[2]+s[4]]);
      return {type:'ellipse',x:a[0],y:a[1],rotation:(s[5]||0)*Math.PI/180,
        shape:{cx:0,cy:0,rx:Math.abs(b[0]-a[0]),ry:Math.abs(b[1]-a[1])},style:{fill:colorOf(s[0])}};
    }});
  // dotted graticule
  const vLines=[];lonTicks.forEach(l=>{vLines.push([l,18.714],[l,20.2],['-','-']);});
  const hLines=[];latTicks.forEach(l=>{hLines.push([99.667,l],[98.331,l],['-','-']);});
  series.push({type:'line',xAxisIndex:gi,yAxisIndex:gi,z:3,silent:true,animation:false,symbol:'none',connectNulls:false,data:vLines,lineStyle:{color:'#444',width:1,type:[1,5],opacity:0.75}});
  series.push({type:'line',xAxisIndex:gi,yAxisIndex:gi,z:3,silent:true,animation:false,symbol:'none',connectNulls:false,data:hLines,lineStyle:{color:'#888',width:1,type:[1,5],opacity:0.4}});
  borders.forEach(b=>series.push({type:'line',xAxisIndex:gi,yAxisIndex:gi,z:4,silent:true,animation:false,symbol:'none',data:pairs(b),clip:true,lineStyle:{color:'#000',width:1.5,join:'round'}}));
  // colour bar
  const L=p.levels,st=L[1]-L[0],lo=L[0]-st,hi=L[L.length-1]+st;
  const bi=grid.length,edges=[lo].concat(L,[hi]);
  grid.push({left:p.bar[0],top:p.bar[1],width:p.bar[2],height:p.bar[3]});
  xAxis.push({gridIndex:bi,type:'value',min:lo,max:hi,axisLine:{show:false},splitLine:{show:false},
    axisTick:{show:false},
    axisLabel:{fontFamily:'DejaVu Sans',fontSize:13,color:'#222',margin:2,customValues:L,formatter:minus}});
  yAxis.push({gridIndex:bi,type:'value',min:0,max:1,show:false});
  series.push({type:'custom',xAxisIndex:bi,yAxisIndex:bi,z:5,silent:true,animation:false,clip:false,
    encode:{x:0,y:1},data:p.colors.map((c,i)=>[edges[i],0.5]),
    renderItem:(params,api)=>{
      const i=params.dataIndex,a=edges[i],b=edges[i+1],last=p.colors.length-1;
      const pts=i===0?[[a,.5],[b,1],[b,0]]:i===last?[[a,1],[b,.5],[a,0]]:[[a,1],[b,1],[b,0],[a,0]];
      return {type:'polygon',shape:{points:pts.map(q=>api.coord(q))},style:{fill:p.colors[i],stroke:'#333',lineWidth:1}};
    }});
  // title
  graphic.push({type:'text',x:p.t[0],y:p.t[1],scaleX:p.t[2]/ctx.measureText(p.title).width,silent:true,
    style:{text:p.title,font:titleFont,fill:'#222',align:'center',verticalAlign:'middle'}});
});
const chart=echarts.init(document.getElementById('c'),null,{renderer:'canvas',width:1355,height:1406});
chart.setOption({animation:false,backgroundColor:'#fff',grid,xAxis,yAxis,series,graphic});
</script></body></html>
